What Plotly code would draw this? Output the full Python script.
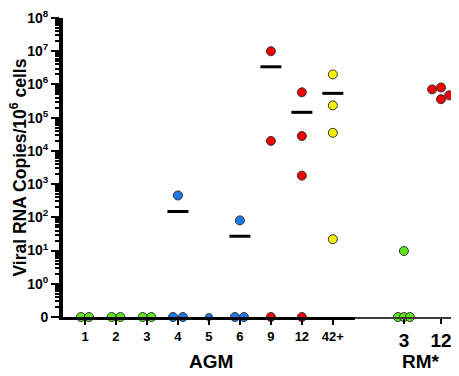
import plotly.graph_objects as go

# ---------------- data ----------------
agm_labels = ["1", "2", "3", "4", "5", "6", "9", "12", "42+"]
agm_values = [
    [0, 0],
    [0, 0],
    [0, 0],
    [455, 0, 0],
    [0],
    [81, 0, 0],
    [1.0e7, 2.0e4, 0],
    [5.8e5, 2.8e4, 1.8e3, 0],
    [2.0e6, 2.35e5, 3.5e4, 22],
]
agm_means = [None, None, None, 150, None, 27, 3.4e6, 1.45e5, 5.4e5]

rm_labels = ["3", "12"]
rm_values = [
    [9.7, 0, 0, 0],
    [7.1e5, 8.1e5, 3.6e5, 4.7e5],
]

y_tick_exponents = [0, 1, 2, 3, 4, 5, 6, 7, 8]

# ---------------- styling ----------------
GREEN = "#5fe619"
BLUE = "#1f78e8"
RED = "#f00000"
YELLOW = "#fbf200"
agm_colors = [GREEN, GREEN, GREEN, BLUE, BLUE, BLUE, RED, RED, YELLOW]
rm_colors = [GREEN, RED]
# horizontal jitter of the dots inside each column (axis units)
agm_jitter = [
    [-0.13, 0.13],
    [-0.14, 0.14],
    [-0.14, 0.14],
    [0, -0.16, 0.16],
    [0],
    [0, -0.16, 0.13],
    [0, 0, 0],
    [0, 0, 0, 0],
    [0, 0, 0, 0],
]
rm_jitter = [
    [0, -0.16, 0, 0.16],
    [-0.24, 0, 0, 0.22],
]
ZERO_POS = 0.1  # where "0" sits on the broken log axis
FONT = "Liberation Sans, Arial, sans-serif"

# page body adds an 8px offset; compensate in the figure size/margins
OFF = 8
PLOT_L, PLOT_T, PLOT_W, PLOT_H = 63, 16, 396, 301


def plot_y(v):
    return v if v > 0 else ZERO_POS


fig = go.Figure()

# mean bars
mx, my = [], []
for i, m in enumerate(agm_means):
    if m is not None:
        mx.append(i + 1)
        my.append(m)
fig.add_trace(go.Scatter(
    x=mx, y=my, mode="markers", xaxis="x", yaxis="y",
    marker=dict(symbol="line-ew", size=15, color="black",
                line=dict(width=3, color="black")),
    cliponaxis=False, hoverinfo="skip", showlegend=False,
))

for i, vals in enumerate(agm_values):
    size = 7 if agm_labels[i] == "5" else 9
    fig.add_trace(go.Scatter(
        x=[i + 1 + d for d in agm_jitter[i]],
        y=[plot_y(v) for v in vals],
        mode="markers", xaxis="x", yaxis="y",
        marker=dict(size=size, color=agm_colors[i],
                    line=dict(width=1, color="#333333")),
        cliponaxis=False, showlegend=False,
    ))

for i, vals in enumerate(rm_values):
    fig.add_trace(go.Scatter(
        x=[i + 1 + d for d in rm_jitter[i]],
        y=[plot_y(v) for v in vals],
        mode="markers", xaxis="x2", yaxis="y",
        marker=dict(size=9, color=rm_colors[i],
                    line=dict(width=1, color="#333333")),
        cliponaxis=False, showlegend=False,
    ))

split = 0.737
fig.update_layout(
    width=459 - OFF, height=376 - OFF,
    margin=dict(l=PLOT_L - OFF, r=0, t=PLOT_T - OFF,
                b=376 - OFF - (PLOT_T - OFF) - PLOT_H),
    paper_bgcolor="white", plot_bgcolor="white",
    font=dict(family=FONT, color="black"),
    xaxis=dict(
        domain=[0, split], range=[0.29, 9.71],
        tickmode="array", tickvals=list(range(1, len(agm_labels) + 1)),
        ticktext=agm_labels,
        tickfont=dict(size=13, weight="bold", family=FONT),
        ticks="outside", ticklen=5, tickwidth=2, tickcolor="black",
        showline=True, linewidth=3, linecolor="black",
        showgrid=False, zeroline=False, anchor="y",
    ),
    xaxis2=dict(
        domain=[split, 1], range=[-0.324, 2.486],
        tickmode="array", tickvals=[1, 2], ticktext=rm_labels,
        tickfont=dict(size=19, weight="bold", family=FONT),
        ticks="outside", ticklen=5, tickwidth=2, tickcolor="black",
        showline=True, linewidth=2, linecolor="#3a3a3a",
        showgrid=False, zeroline=False, anchor="y",
    ),
    yaxis=dict(
        type="log", range=[-1, 8.0005],
        tickmode="array",
        tickvals=[ZERO_POS] + [10 ** e for e in y_tick_exponents],
        ticktext=["0"] + [f"10<sup>{e}</sup>" for e in y_tick_exponents],
        tickfont=dict(size=14, weight="bold", family=FONT),
        ticklabeloverflow="allow",
        ticks="outside", ticklen=8, tickwidth=2, tickcolor="black",
        showline=True, linewidth=4, linecolor="black",
        showgrid=False, zeroline=False,
        minor=dict(ticks="outside", ticklen=4, tickwidth=1.5,
                   tickcolor="black", dtick="D1", showgrid=False),
    ),
    annotations=[
        dict(text="Viral RNA Copies/10<sup>6</sup> cells", textangle=-90,
             xref="paper", yref="paper", x=(18 - PLOT_L) / PLOT_W, y=0.5,
             xanchor="center", yanchor="middle", showarrow=False,
             font=dict(size=17.5, weight="bold", family=FONT)),
        dict(text="AGM", xref="paper", yref="paper",
             x=(211 - PLOT_L) / PLOT_W, y=(317 - 362) / PLOT_H,
             xanchor="center", yanchor="middle", showarrow=False,
             font=dict(size=19, weight="bold", family=FONT)),
        dict(text="RM*", xref="paper", yref="paper",
             x=(421 - PLOT_L) / PLOT_W, y=(317 - 362) / PLOT_H,
             xanchor="center", yanchor="middle", showarrow=False,
             font=dict(size=19, weight="bold", family=FONT)),
    ],
)

fig.write_html("out.html")
